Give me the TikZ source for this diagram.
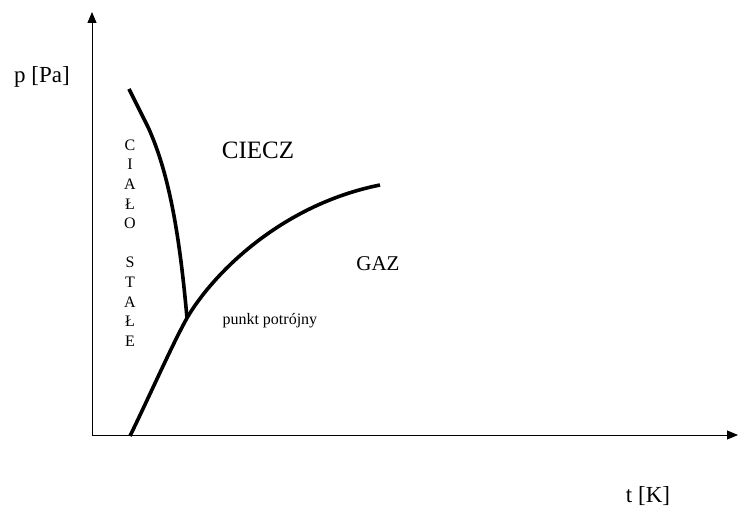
\documentclass[tikz,border=0pt]{standalone}
\usepackage{fontspec}
\setmainfont{Liberation Serif}
\usetikzlibrary{arrows.meta}

\begin{document}
\begin{tikzpicture}[x=1pt, y=-1pt,
    axis/.style={line width=0.8pt, -{Triangle[length=11pt, width=9pt]}},
    phase/.style={line width=3.6pt},
    big/.style={font=\fontsize{23}{26}\selectfont},
    small/.style={font=\fontsize{16}{18}\selectfont}]
  \useasboundingbox (0,0) rectangle (739,508);

  % osie
  \coordinate (O) at (92,435);
  \coordinate (ytop) at (92,12);
  \coordinate (xend) at (738,435);
  \draw[axis] (O) -- (ytop);
  \draw[axis] (O) -- (xend);
  \node[big] (p) at (42,77) {p [Pa]};
  \node[big] (t) at (648,496) {t [K]};

  % krzywe przemian fazowych
  \coordinate (T) at (187,318); % punkt potrojny
  \draw[phase] (129,89) -- (148,127) .. controls (170,175) and (180,240) .. (T);
  \draw[phase] (130,436) .. controls (150,395) and (172,345) .. (T)
    .. controls (212,275) and (280,205) .. (380,185);

  % obszary
  \node[font=\fontsize{25}{28}\selectfont] (liq) at (258,150) {CIECZ};
  \node[font=\fontsize{21}{24}\selectfont] (gas) at (378,264) {GAZ};
  \node[small, anchor=west] (tp) at (219,321) {punkt potrójny};
  \foreach \l/\k in {C/0,I/1,A/2,Ł/3,O/4,S/6,T/7,A/8,Ł/9,E/10}
    \node[small] (s\k) at (130,{145+19.6*\k}) {\l};
\end{tikzpicture}
\end{document}
